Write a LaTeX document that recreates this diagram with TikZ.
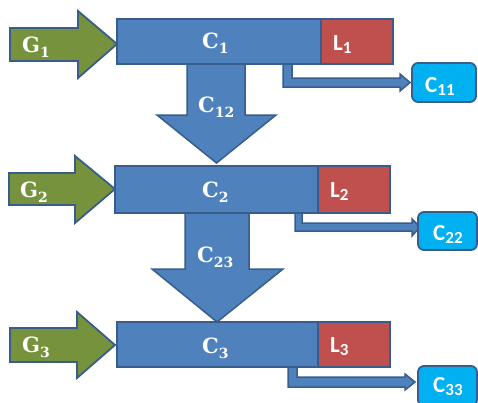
\documentclass[tikz,border=0pt]{standalone}
\usepackage{fontspec}
\setmainfont{DejaVu Serif}
\newfontfamily\lblsans{Carlito}
\usetikzlibrary{calc}
\definecolor{boxblue}{RGB}{79,129,189}
\definecolor{edgeblue}{RGB}{56,93,138}
\definecolor{olive}{RGB}{118,146,60}
\definecolor{lossred}{RGB}{192,80,77}
\definecolor{outcyan}{RGB}{0,176,240}
\newcommand\mysub[1]{\raisebox{-0.28em}{\fontsize{14}{14}\selectfont #1}}
\newcommand\mysubs[1]{\raisebox{-0.15em}{\fontsize{17}{17}\selectfont #1}}
\tikzset{
  blockbox/.style={draw=edgeblue, line width=1.8pt, fill=boxblue},
  lossbox/.style={draw=edgeblue, line width=1.8pt, fill=lossred},
  outbox/.style={draw=edgeblue, line width=1.8pt, fill=outcyan, rounded corners=6pt},
  inarrow/.style={draw=edgeblue, line width=1.8pt, fill=olive, line join=miter},
  downarrow/.style={draw=edgeblue, line width=1.5pt, fill=boxblue},
  bentarrow/.style={draw=edgeblue, line width=1.5pt, fill=boxblue},
  serlbl/.style={anchor=base west, inner sep=0pt, text=white, font=\fontsize{21}{21}\selectfont\bfseries},
  sanlbl/.style={anchor=base west, inner sep=0pt, text=white, font=\lblsans\fontsize{23}{23}\selectfont\bfseries},
}
\begin{document}
\begin{tikzpicture}[x=1pt,y=-1pt]
\useasboundingbox (0,0) rectangle (478,402);
\clip (0,0) rectangle (478,402);
% input arrows
\draw[inarrow] (10,28) -- (78,28) -- (78,11) -- (117,44) -- (78,78) -- (78,61) -- (10,61) -- cycle;
\draw[inarrow] (9,173) -- (75,173) -- (75,156) -- (115,189) -- (75,223) -- (75,205) -- (9,205) -- cycle;
\draw[inarrow] (10,328) -- (77,328) -- (77,312) -- (115,345) -- (77,378) -- (77,362) -- (10,362) -- cycle;
% down arrows
\draw[downarrow] (187,64) -- (187,115) -- (157,115) -- (216.5,163) -- (276,115) -- (245,115) -- (245,64) -- cycle;
\draw[downarrow] (185,213) -- (185,269) -- (152,269) -- (217,322) -- (283,269) -- (249,269) -- (249,213) -- cycle;
% bent arrows
\draw[bentarrow] (283,64) -- (283,87) -- (400,87) -- (400,91) -- (410,82.5) -- (400,74) -- (400,78) -- (292,78) -- (292,64);
\draw[bentarrow] (295,213) -- (295,231) -- (412,231) -- (412,236) -- (420,227) -- (412,219) -- (412,223) -- (302,223) -- (302,213);
\draw[bentarrow] (288,367) -- (288,387) -- (405,387) -- (405,390) -- (415,382) -- (405,374) -- (405,377) -- (297,377) -- (297,367);
% boxes
\node[blockbox, minimum width=204pt, minimum height=45pt, inner sep=0pt] (C1) at (219,41.5) {};
\node[lossbox, minimum width=72pt, minimum height=45pt, inner sep=0pt] (L1) at (357,41.5) {};
\node[blockbox, minimum width=203pt, minimum height=47pt, inner sep=0pt] (C2) at (216.5,189.5) {};
\node[lossbox, minimum width=72pt, minimum height=47pt, inner sep=0pt] (L2) at (354,189.5) {};
\node[blockbox, minimum width=201pt, minimum height=45pt, inner sep=0pt] (C3) at (217.5,344.5) {};
\node[lossbox, minimum width=72pt, minimum height=45pt, inner sep=0pt] (L3) at (354,344.5) {};
\node[outbox, minimum width=64pt, minimum height=39pt, inner sep=0pt] (C11) at (444,82.5) {};
\node[outbox, minimum width=59pt, minimum height=38pt, inner sep=0pt] (C22) at (447.5,231) {};
\node[outbox, minimum width=59pt, minimum height=40pt, inner sep=0pt] (C33) at (447.5,386) {};
% labels
\node[serlbl] (tG1) at (22,52) {G\mysub{1}};
\node[serlbl] (tC1) at (202,48) {C\mysub{1}};
\node[serlbl] (tC12) at (198,112) {C\mysub{12}};
\node[sanlbl] (tL1) at (333,50) {L\mysubs{1}};
\node[sanlbl] (tC11) at (425,92) {C\mysubs{11}};
\node[serlbl] (tG2) at (20,197) {G\mysub{2}};
\node[serlbl] (tC2) at (202,197) {C\mysub{2}};
\node[sanlbl] (tL2) at (330,197) {L\mysubs{2}};
\node[serlbl] (tC23) at (197,262) {C\mysub{23}};
\node[sanlbl] (tC22) at (433,240) {C\mysubs{22}};
\node[serlbl] (tG3) at (22,352) {G\mysub{3}};
\node[serlbl] (tC3) at (202,353) {C\mysub{3}};
\node[sanlbl] (tL3) at (330,352) {L\mysubs{3}};
\node[sanlbl] (tC33) at (433,392) {C\mysubs{33}};
\end{tikzpicture}
\end{document}
